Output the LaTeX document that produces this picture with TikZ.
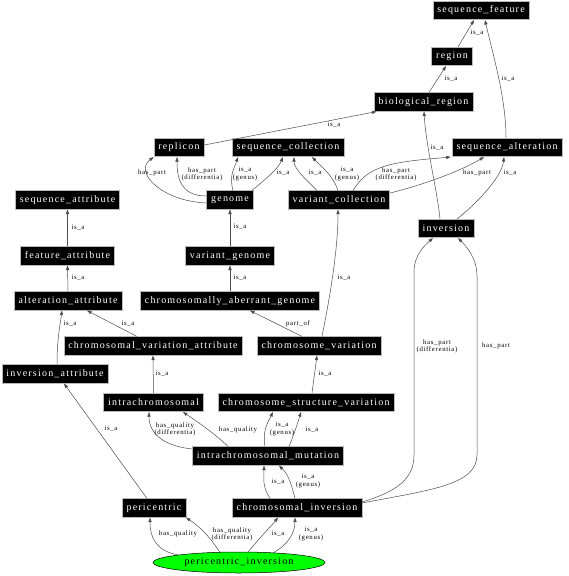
\documentclass[tikz,border=0pt]{standalone}
\usepackage{fontspec}
\setmainfont{Liberation Serif}
\newfontfamily\nodefont[LetterSpace=12]{Liberation Serif}
\newfontfamily\lblfont[LetterSpace=10]{Liberation Serif}
\usetikzlibrary{arrows.meta,calc,shapes.geometric}
\begin{document}
\begin{tikzpicture}[x=1pt,y=-1pt,
  term/.style={draw=gray!55,line width=0.6pt,fill=black,text=white,
    font=\nodefont\fontsize{10}{12}\selectfont,inner xsep=4.5pt,inner ysep=0pt,
    minimum height=18.5pt},
  focus/.style={ellipse,draw=black,line width=0.5pt,fill=green,text=black,
    font=\nodefont\fontsize{10}{12}\selectfont,minimum width=172pt,minimum height=21pt,inner sep=0pt},
  rel/.style={draw=black!70,line width=0.5pt,-{Triangle[length=4.5pt,width=3.2pt]}},
  lbl/.style={font=\lblfont\fontsize{6.8}{7.2}\selectfont,align=center,inner sep=0pt,text=black}]
\useasboundingbox (0,0) rectangle (568,576);
\fill[white] (0,0) rectangle (568,576);
% nodes
\node[term] (sf) at (481,10.5) {sequence\_feature};
\node[term] (rg) at (452,56.5) {region};
\node[term] (br) at (423.5,102) {biological\_region};
\node[term] (rp) at (179,147.5) {replicon};
\node[term] (sc) at (288,147.5) {sequence\_collection};
\node[term] (sa) at (507,147.5) {sequence\_alteration};
\node[term] (sat) at (67.5,200) {sequence\_attribute};
\node[term] (gn) at (230,200) {genome};
\node[term] (vc) at (339,200) {variant\_collection};
\node[term] (inv) at (446,228.5) {inversion};
\node[term] (fa) at (67.5,256) {feature\_attribute};
\node[term] (vg) at (230,256) {variant\_genome};
\node[term] (aa) at (68,301) {alteration\_attribute};
\node[term] (cag) at (230,301) {chromosomally\_aberrant\_genome};
\node[term] (cva) at (153,346) {chromosomal\_variation\_attribute};
\node[term] (cv) at (319,346) {chromosome\_variation};
\node[term] (ia) at (55,374) {inversion\_attribute};
\node[term] (ic) at (153.5,402.5) {intrachromosomal};
\node[term] (csv) at (306,402.5) {chromosome\_structure\_variation};
\node[term] (im) at (268,456) {intrachromosomal\_mutation};
\node[term] (pc) at (154,508) {pericentric};
\node[term] (ci) at (297,508) {chromosomal\_inversion};
\node[focus] (pi) at (239,562.5) {pericentric\_inversion};
% edges
\draw[rel] ([xshift=6pt]rg.north) -- ([xshift=-7pt]sf.south);
\draw[rel] ([xshift=5.5pt]br.north) -- ([xshift=-6pt]rg.south);
\draw[rel] ([xshift=-1pt]sa.north) .. controls +(0,-40) and +(8,35) .. ([xshift=4pt]sf.south);
\draw[rel] ([yshift=2.5pt]rp.east) -- ([xshift=-47pt]br.south);
\draw[rel] ([xshift=-6pt]inv.north) .. controls +(-3,-30) and +(2,35) .. ([xshift=0.5pt]br.south);
\draw[rel] ([xshift=11pt]inv.north) .. controls +(25,-20) and +(-2,18) .. ([xshift=-3pt]sa.south);
\draw[rel] ([yshift=-3pt]gn.west) .. controls +(-45,-2) and +(-20,15) .. (rp.south west);
\draw[rel] ([yshift=4pt]gn.west) .. controls +(-25,0) and +(0,22) .. ([xshift=-2pt]rp.south);
\draw[rel] ([xshift=3pt]gn.north) .. controls +(-4,-15) and +(-4,12) .. ([xshift=-50pt]sc.south);
\draw[rel] ([xshift=22pt]gn.north) .. controls +(12,-10) and +(-5,12) .. ([xshift=-5pt]sc.south);
\draw[rel] ([xshift=-22pt]vc.north) .. controls +(-10,-10) and +(0,12) .. ([xshift=6pt]sc.south);
\draw[rel] ([xshift=-1pt]vc.north) .. controls +(-5,-15) and +(10,10) .. ([xshift=24pt]sc.south);
\draw[rel] ([xshift=14pt]vc.north) .. controls +(15,-25) and +(-60,5) .. ([xshift=-1pt]sa.south west);
\draw[rel] ([yshift=7pt]vc.east) .. controls +(40,-10) and +(-20,12) .. ([xshift=-23pt]sa.south);
\draw[rel] (fa.north) -- (sat.south);
\draw[rel] (aa.north) -- (fa.south);
\draw[rel] (vg.north) -- (gn.south);
\draw[rel] (cag.north) -- (vg.south);
\draw[rel] ([xshift=3pt]cv.north) .. controls +(8,-40) and +(0,40) .. ([xshift=-1pt]vc.south);
\draw[rel] ([xshift=-17pt]cv.north) -- ([xshift=20pt]cag.south);
\draw[rel] ([xshift=2pt]ia.north) .. controls +(0,-25) and +(-2,15) .. ([xshift=-6pt]aa.south);
\draw[rel] ([xshift=-16pt]cva.north) -- ([xshift=19pt]aa.south);
\draw[rel] (ic.north) -- (cva.south);
\draw[rel] ([xshift=6pt]csv.north) -- ([xshift=-2pt]cv.south);
\draw[rel] ([yshift=7pt]im.west) .. controls +(-28,-3) and +(0,22) .. ([xshift=-4.5pt]ic.south);
\draw[rel] ([xshift=-40pt]im.north) .. controls +(-12,-12) and +(12,8) .. ([xshift=29.5pt]ic.south);
\draw[rel] ([xshift=-3pt]im.north) .. controls +(-3,-15) and +(-5,10) .. ([xshift=-33pt]csv.south);
\draw[rel] ([xshift=21pt]im.north) .. controls +(5,-12) and +(-3,10) .. ([xshift=-5pt]csv.south);
\draw[rel] ([xshift=-27pt]ci.north) .. controls +(-8,-12) and +(0,12) .. ([xshift=-4pt]im.south);
\draw[rel] ([xshift=-2pt]ci.north) .. controls +(-5,-20) and +(8,8) .. ([xshift=11pt]im.south);
\draw[rel] ([yshift=6pt]ci.east) .. controls (395,492) and (414,480) .. (414,455) -- (414,272) .. controls (414,255) and (425,245) .. ([xshift=-13pt]inv.south);
\draw[rel] ([yshift=5pt]ci.east) .. controls (430,490) and (477,485) .. (477,455) -- (477,276) .. controls (477,258) and (466,246) .. ([xshift=12pt]inv.south);
\draw[rel] ([xshift=-7pt]pc.north) -- ([xshift=9pt]ia.south);
\draw[rel] (pi.north west) .. controls +(-22,-4) and +(0,20) .. ([xshift=-4pt]pc.south);
\draw[rel] ($(pi.center)+(-19,-10.2)$) .. controls +(-10,-15) and +(15,10) .. ([xshift=32pt]pc.south);
\draw[rel] ($(pi.center)+(9,-10.4)$) .. controls +(12,-15) and +(-8,10) .. ([xshift=-19pt]ci.south);
\draw[rel] ($(pi.center)+(34,-9.6)$) .. controls +(15,-8) and +(0,15) .. ([xshift=-2pt]ci.south);
% labels
\node[lbl] (l1) at (477,33) {is\_a};
\node[lbl] (l2) at (451,79) {is\_a};
\node[lbl] (l3) at (508,79) {is\_a};
\node[lbl] (l4) at (334,125) {is\_a};
\node[lbl] (l5) at (437,148) {is\_a};
\node[lbl] (l6) at (510,173) {is\_a};
\node[lbl] (l7) at (152,173) {has\_part};
\node[lbl] (l8) at (202,174) {has\_part\\(differentia)};
\node[lbl] (l9) at (245,174) {is\_a\\(genus)};
\node[lbl] (l10) at (283,173) {is\_a};
\node[lbl] (l11) at (315,173) {is\_a};
\node[lbl] (l12) at (347,174) {is\_a\\(genus)};
\node[lbl] (l13) at (396,174) {has\_part\\(differentia)};
\node[lbl] (l14) at (477,173) {has\_part};
\node[lbl] (l15) at (78,228) {is\_a};
\node[lbl] (l16) at (78,278) {is\_a};
\node[lbl] (l17) at (240,227) {is\_a};
\node[lbl] (l18) at (240,278) {is\_a};
\node[lbl] (l19) at (344,278) {is\_a};
\node[lbl] (l20) at (298,324) {part\_of};
\node[lbl] (l21) at (70,324) {is\_a};
\node[lbl] (l22) at (128,324) {is\_a};
\node[lbl] (l23) at (162,374) {is\_a};
\node[lbl] (l24) at (325,374) {is\_a};
\node[lbl] (l25) at (175,429) {has\_quality\\(differentia)};
\node[lbl] (l26) at (238,430) {has\_quality};
\node[lbl] (l27) at (282,429) {is\_a\\(genus)};
\node[lbl] (l28) at (312,430) {is\_a};
\node[lbl] (l29) at (278,482) {is\_a};
\node[lbl] (l30) at (308,481) {is\_a\\(genus)};
\node[lbl] (l31) at (437,346) {has\_part\\(differentia)};
\node[lbl] (l32) at (496,346) {has\_part};
\node[lbl] (l33) at (111,429) {is\_a};
\node[lbl] (l34) at (178,534) {has\_quality};
\node[lbl] (l35) at (232,534) {has\_quality\\(differentia)};
\node[lbl] (l36) at (278,534) {is\_a};
\node[lbl] (l37) at (311,534) {is\_a\\(genus)};
\end{tikzpicture}
\end{document}
